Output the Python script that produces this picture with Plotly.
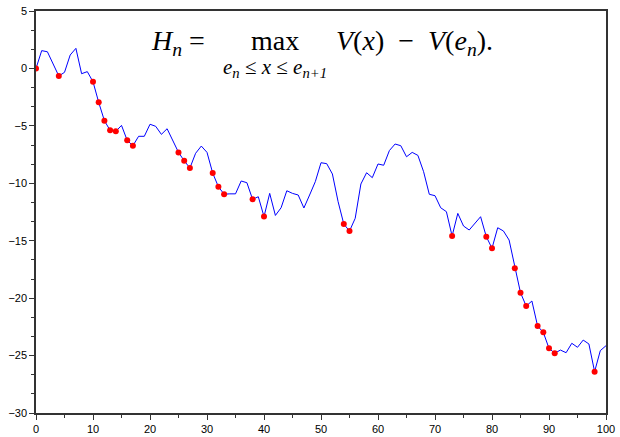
import plotly.graph_objects as go

# random walk values V(x) at x = 0..100
x_vals = list(range(101))
v_vals = [
    0.0, 1.55, 1.45, 0.44, -0.66, -0.34, 1.17, 1.75, -0.46, -0.28,
    -1.16, -2.95, -4.55, -5.39, -5.48, -4.96, -6.26, -6.73, -5.91, -5.91,
    -4.86, -5.04, -5.74, -5.25, -6.29, -7.31, -8.04, -8.67, -7.39, -6.76,
    -7.31, -9.11, -10.30, -10.95, -10.92, -10.92, -9.80, -9.95, -11.40, -11.17,
    -12.90, -10.88, -12.80, -12.13, -10.65, -10.88, -11.02, -12.15, -11.02, -9.86,
    -8.21, -8.29, -9.19, -11.60, -13.55, -14.16, -13.05, -10.06, -9.08, -9.51,
    -8.32, -8.43, -7.15, -6.58, -6.73, -7.69, -7.31, -7.57, -8.99, -10.96,
    -11.08, -12.13, -12.47, -14.59, -12.62, -13.72, -14.07, -13.49, -12.91, -14.65,
    -15.66, -13.87, -14.15, -14.94, -17.40, -19.53, -20.69, -20.25, -22.43, -22.98,
    -24.37, -24.80, -24.52, -24.75, -23.93, -24.28, -23.65, -23.99, -26.40, -24.57,
    -24.14,
]

# ladder (record-minimum) points
rec_x, rec_y = [], []
running = None
for xi, vi in zip(x_vals, v_vals):
    if running is None or vi < running:
        running = vi
        rec_x.append(xi)
        rec_y.append(vi)

x_ticks = [0, 10, 20, 30, 40, 50, 60, 70, 80, 90, 100]
y_ticks = [5, 0, -5, -10, -15, -20, -25, -30]

fig = go.Figure()
fig.add_trace(go.Scatter(x=x_vals, y=v_vals, mode="lines",
                         line=dict(color="#0000ff", width=1), hoverinfo="skip"))
fig.add_trace(go.Scatter(x=rec_x, y=rec_y, mode="markers",
                         marker=dict(color="#ff0000", size=6), hoverinfo="skip"))

axis_common = dict(showgrid=False, zeroline=False, showline=True, mirror=True,
                   linecolor="#333333", linewidth=1.5, ticks="outside",
                   tickcolor="#333333", tickwidth=1, ticklen=5, automargin=False,
                   tickfont=dict(family="Liberation Sans, Arial, sans-serif", size=11, color="#000"))

fig.update_xaxes(range=[0, 100], tickvals=x_ticks, ticktext=[str(t) for t in x_ticks],
                 minor=dict(dtick=5, tick0=0, ticks="outside", ticklen=3, tickcolor="#333333"),
                 **axis_common)
fig.update_yaxes(range=[-30, 5], tickvals=y_ticks,
                 ticktext=[("\u2212" + str(-t)) if t < 0 else str(t) for t in y_ticks],
                 minor=dict(dtick=5/3, tick0=0, ticks="outside", ticklen=3, tickcolor="#333333"),
                 **axis_common)

serif = "Liberation Serif, Times New Roman, serif"
ytop = 1 - (23 - 11) / 402
fig.add_annotation(xref="paper", yref="paper", x=(149-36)/570, y=ytop,
                   xanchor="left", yanchor="top", showarrow=False,
                   text="<i>H<sub>n</sub></i> = ",
                   font=dict(family=serif, size=28, color="#000"))
fig.add_annotation(xref="paper", yref="paper", x=(249-36)/570, y=ytop,
                   xanchor="left", yanchor="top", showarrow=False,
                   text="max",
                   font=dict(family=serif, size=28, color="#000"))
fig.add_annotation(xref="paper", yref="paper", x=(334-36)/570, y=ytop,
                   xanchor="left", yanchor="top", showarrow=False,
                   text="<i>V</i>(<i>x</i>)  \u2212  <i>V</i>(<i>e<sub>n</sub></i>).",
                   font=dict(family=serif, size=28, color="#000"))
fig.add_annotation(xref="paper", yref="paper", x=(221-36)/570, y=1-(53-11)/402,
                   xanchor="left", yanchor="top", showarrow=False,
                   text="<i>e<sub>n</sub></i> \u2264 <i>x</i> \u2264 <i>e<sub>n+1</sub></i>",
                   font=dict(family=serif, size=21, color="#000"))

fig.update_layout(width=620, height=437, margin=dict(l=36, r=14, t=11, b=24),
                  plot_bgcolor="white", paper_bgcolor="white", showlegend=False)

fig.write_html("out.html")
